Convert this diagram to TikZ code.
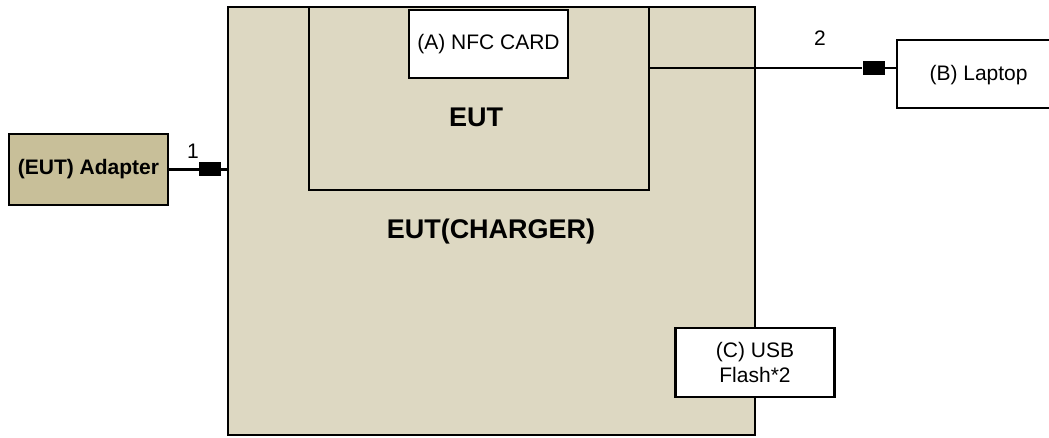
\documentclass[tikz,border=0pt]{standalone}
\usepackage{fontspec}
\setmainfont{Liberation Sans}
\usetikzlibrary{positioning}
\definecolor{chargerfill}{RGB}{221,216,194}
\definecolor{adapterfill}{RGB}{200,191,153}
\tikzset{
  unit/.style={draw=black,line width=2.8pt,inner sep=0pt,align=center},
  chargerbox/.style={unit,fill=chargerfill},
  adapterbox/.style={unit,fill=adapterfill,font=\fontsize{21}{24}\selectfont\bfseries},
  devbox/.style={unit,fill=white,font=\fontsize{21}{25}\selectfont},
  plug/.style={draw=none,fill=black,minimum width=22pt,minimum height=14pt,inner sep=0pt},
  cable/.style={draw=black,line width=2.8pt},
  tag/.style={font=\fontsize{21}{24}\selectfont},
  biglabel/.style={font=\fontsize{27}{30}\selectfont\bfseries},
}
\begin{document}
\begin{tikzpicture}[x=1pt,y=-1pt]
  \useasboundingbox (0,0) rectangle (1049,438);
  % the charger and the EUT inside it
  \node[chargerbox,minimum width=527pt,minimum height=428pt] (charger) at (491.5,221) {};
  \node[chargerbox,minimum width=340pt,minimum height=183pt] (eut) at (479,98.5) {};
  \node[devbox,minimum width=159pt,minimum height=68pt] (nfc) at (488.5,44) {(A) NFC CARD};
  \node[biglabel] (euttext) at (476,117) {EUT};
  \node[biglabel] (chargertext) at (491,232) {EUT(CHARGER)};
  \node[devbox,minimum width=159pt,minimum height=69pt] (usb) at (755,362.5) {(C) USB\\Flash*2};
  % adapter and cable 1
  \node[adapterbox,minimum width=159pt,minimum height=71pt] (adapter) at (88.5,169.5) {(EUT) Adapter};
  \node[plug] (plugA) at (210,169.5) {};
  \draw[cable] (adapter.east) -- (plugA.west);
  \draw[cable] (plugA.east) -- (charger.west |- plugA);
  \node[tag] (numA) at (193,151) {1};
  % laptop and cable 2
  \node[devbox,minimum width=170pt,minimum height=68pt] (laptop) at (982,74) {};
  \node[tag,anchor=west] (laptoptext) at (926,75) {(B) Laptop};
  \node[plug] (plugB) at (873.5,68) {};
  \draw[cable] (eut.east |- plugB) -- (plugB.west);
  \draw[cable] (plugB.east) -- (laptop.west |- plugB);
  \node[tag] (numB) at (820,38) {2};
\end{tikzpicture}
\end{document}
